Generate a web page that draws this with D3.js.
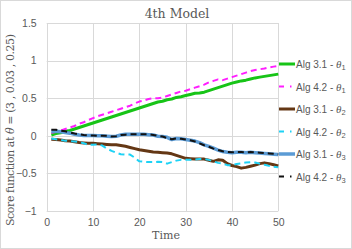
<!DOCTYPE html>
<html>
<head>
<meta charset="utf-8">
<script src="https://cdn.jsdelivr.net/npm/d3@7"></script>
<style>
  body { margin: 0; background: #fff; }
  svg text { fill: #595959; }
</style>
</head>
<body>
<svg id="chart" width="352" height="249"></svg>
<script>
// time steps 1..50
const times = d3.range(1, 51);

const alg31Theta1 = [0.01,0.03,0.04,0.06,0.07,0.09,0.11,0.13,0.15,0.17,
  0.19,0.21,0.23,0.25,0.27,0.29,0.31,0.33,0.35,0.37,
  0.39,0.41,0.43,0.45,0.46,0.48,0.49,0.51,0.52,0.535,
  0.55,0.565,0.57,0.58,0.60,0.62,0.64,0.66,0.68,0.70,
  0.715,0.73,0.74,0.755,0.77,0.78,0.79,0.80,0.81,0.82];

const alg42Theta1 = [0.04,0.05,0.07,0.09,0.11,0.13,0.16,0.18,0.21,0.235,
  0.26,0.28,0.30,0.32,0.34,0.36,0.38,0.40,0.43,0.455,
  0.47,0.49,0.50,0.50,0.51,0.53,0.55,0.57,0.59,0.60,
  0.62,0.64,0.66,0.68,0.71,0.73,0.75,0.74,0.76,0.78,
  0.80,0.82,0.84,0.86,0.875,0.885,0.895,0.91,0.92,0.93];

const alg31Theta2 = [-0.045,-0.05,-0.055,-0.065,-0.07,-0.08,-0.09,-0.095,-0.1,-0.1,
  -0.105,-0.11,-0.115,-0.12,-0.12,-0.13,-0.14,-0.155,-0.17,-0.185,
  -0.195,-0.205,-0.215,-0.22,-0.225,-0.23,-0.24,-0.26,-0.28,-0.30,
  -0.305,-0.31,-0.31,-0.31,-0.325,-0.34,-0.32,-0.325,-0.37,-0.395,
  -0.41,-0.43,-0.42,-0.405,-0.39,-0.37,-0.36,-0.37,-0.385,-0.40];

const alg42Theta2 = [-0.035,-0.045,-0.055,-0.065,-0.07,-0.075,-0.08,-0.1,-0.12,-0.12,
  -0.115,-0.13,-0.17,-0.2,-0.225,-0.245,-0.25,-0.25,-0.29,-0.34,
  -0.345,-0.35,-0.35,-0.345,-0.35,-0.37,-0.35,-0.33,-0.32,-0.32,
  -0.32,-0.315,-0.31,-0.31,-0.32,-0.34,-0.36,-0.37,-0.39,-0.39,
  -0.375,-0.365,-0.355,-0.35,-0.355,-0.37,-0.385,-0.4,-0.41,-0.42];

const alg31Theta3 = [0.06,0.06,0.055,0.045,0.035,0.02,0.01,0.005,0.005,0.005,
  0.0,0.0,-0.005,-0.01,-0.005,0.01,0.02,0.02,0.02,0.02,
  0.02,0.015,0.01,-0.005,-0.01,-0.02,-0.05,-0.035,-0.04,-0.05,
  -0.06,-0.07,-0.09,-0.12,-0.14,-0.165,-0.19,-0.21,-0.22,-0.225,
  -0.22,-0.22,-0.225,-0.22,-0.225,-0.23,-0.235,-0.24,-0.245,-0.25];

const alg42Theta3 = [0.08,0.08,0.07,0.06,0.045,0.03,0.02,0.01,0.005,0.005,
  0.0,0.0,0.0,-0.01,-0.005,0.01,0.015,0.02,0.02,0.02,
  0.02,0.02,0.01,0.0,-0.01,-0.03,-0.045,-0.035,-0.04,-0.05,
  -0.06,-0.075,-0.1,-0.125,-0.145,-0.17,-0.19,-0.205,-0.215,-0.22,
  -0.215,-0.215,-0.22,-0.215,-0.22,-0.225,-0.23,-0.235,-0.24,-0.245];

const xTicks = [0, 10, 20, 30, 40, 50];
const yTicks = [-1, -0.5, 0, 0.5, 1, 1.5];

const series = [
  {alg: "3.1", sub: "1", values: alg31Theta1, color: "#17c417", width: 3, dash: null},
  {alg: "4.2", sub: "1", values: alg42Theta1, color: "#ff1eff", width: 2, dash: "6,4"},
  {alg: "3.1", sub: "2", values: alg31Theta2, color: "#643714", width: 3, dash: null},
  {alg: "4.2", sub: "2", values: alg42Theta2, color: "#1ed2f5", width: 2, dash: "6,4"},
  {alg: "3.1", sub: "3", values: alg31Theta3, color: "#5b9bd5", width: 3.5, dash: null},
  {alg: "4.2", sub: "3", values: alg42Theta3, color: "#111111", width: 2, dash: "6,4"}
];

const svg = d3.select("#chart");
const plot = {left: 46.7, right: 278.3, top: 23, bottom: 211};
const serif = "DejaVu Serif, Liberation Serif, serif";

svg.append("rect")
  .attr("x", 0.5).attr("y", 0.5).attr("width", 351).attr("height", 248)
  .attr("fill", "#fff").attr("stroke", "#d9d9d9");

const x = d3.scaleLinear().domain([0, 50]).range([plot.left, plot.right]);
const y = d3.scaleLinear().domain([-1, 1.5]).range([plot.bottom, plot.top]);

// grid
const grid = svg.append("g").attr("stroke", "#d9d9d9").attr("stroke-width", 1);
grid.selectAll("line.h").data(yTicks).join("line")
  .attr("x1", plot.left).attr("x2", plot.right)
  .attr("y1", d => Math.round(y(d)) + 0.5).attr("y2", d => Math.round(y(d)) + 0.5);
grid.selectAll("line.v").data(xTicks).join("line")
  .attr("y1", plot.top).attr("y2", plot.bottom)
  .attr("x1", d => Math.round(x(d)) + 0.5).attr("x2", d => Math.round(x(d)) + 0.5);

// axes, text only
const yAxis = svg.append("g")
  .attr("transform", `translate(${plot.left},0)`)
  .call(d3.axisLeft(y).tickValues(yTicks).tickSize(0).tickPadding(10).tickFormat(d3.format("")));
const xAxis = svg.append("g")
  .attr("transform", `translate(0,${plot.bottom})`)
  .call(d3.axisBottom(x).tickValues(xTicks).tickSize(0).tickPadding(8));
[yAxis, xAxis].forEach(a => {
  a.select(".domain").remove();
  a.selectAll("text").attr("font-family", "Liberation Sans, Arial, sans-serif")
    .attr("font-size", 10.5).attr("fill", "#595959");
});

// lines
const line = d3.line().x((d, i) => x(times[i])).y(d => y(d));
svg.append("g").selectAll("path").data(series).join("path")
  .attr("d", d => line(d.values))
  .attr("fill", "none")
  .attr("stroke", d => d.color)
  .attr("stroke-width", d => d.width)
  .attr("stroke-dasharray", d => d.dash)
  .attr("stroke-linejoin", "round");

// titles
svg.append("text").attr("x", 177).attr("y", 18).attr("text-anchor", "middle")
  .attr("font-family", serif).attr("font-size", 12.5)
  .attr("fill", "#404040").text("4th Model");

svg.append("text").attr("x", 166).attr("y", 239).attr("text-anchor", "middle")
  .attr("font-family", serif).attr("font-size", 11)
  .attr("fill", "#404040").text("Time");

const yt = svg.append("text")
  .attr("transform", "translate(14,130) rotate(-90)")
  .attr("text-anchor", "middle")
  .attr("font-family", serif).attr("font-size", 11)
  .attr("textLength", 192).attr("lengthAdjust", "spacing")
  .attr("fill", "#404040");
yt.append("tspan").text("Score function at  ");
yt.append("tspan").attr("font-style", "italic").text("θ");
yt.append("tspan").text(" = (3 , 0.03 , 0.25)");

// legend
const legend = svg.append("g").selectAll("g").data(series).join("g")
  .attr("transform", (d, i) => `translate(279,${64 + i * 22.5})`);
legend.append("line")
  .attr("x1", 0).attr("x2", 16).attr("y1", 0).attr("y2", 0)
  .attr("stroke", d => d.color).attr("stroke-width", d => d.width)
  .attr("stroke-dasharray", d => d.dash ? "5,6,1.5,10" : null);
const lt = legend.append("text").attr("x", 17).attr("y", 4)
  .attr("font-family", "Liberation Sans, Arial, sans-serif").attr("font-size", 10)
  .attr("fill", "#595959");
lt.append("tspan").text(d => `Alg ${d.alg} - `);
lt.append("tspan").attr("font-family", "Liberation Serif, serif").attr("font-style", "italic")
  .attr("font-size", 11).text("θ");
lt.append("tspan").attr("font-size", 7.5).attr("dy", 2).text(d => d.sub);
</script>
</body>
</html>
